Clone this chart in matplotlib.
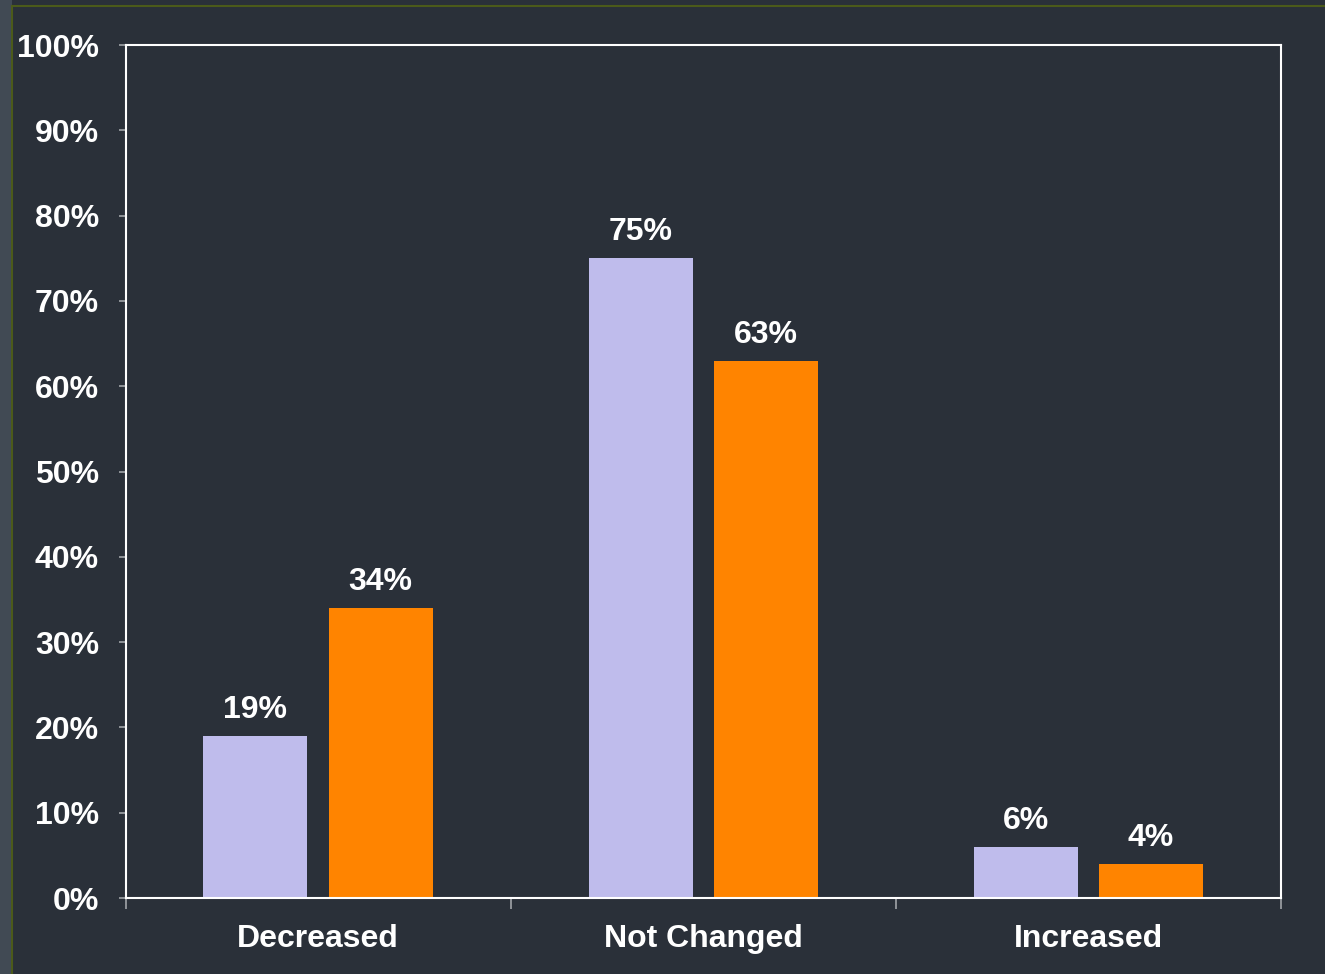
import numpy as np
import matplotlib
matplotlib.use("Agg")
import matplotlib.pyplot as plt
from matplotlib.lines import Line2D
from matplotlib.patches import Rectangle

categories = ["Decreased", "Not Changed", "Increased"]
series_a = [19, 75, 6]    # lavender
series_b = [34, 63, 4]    # orange
yticks = [0, 10, 20, 30, 40, 50, 60, 70, 80, 90, 100]
ytick_labels = [f"{v}%" for v in yticks]

bg = "#2a3039"
col_a = "#bfbcec"
col_b = "#ff8400"

plt.rcParams["font.family"] = ["Liberation Sans", "DejaVu Sans"]
plt.rcParams["font.weight"] = "bold"
fs = 23

fig = plt.figure(figsize=(13.25, 9.74), dpi=100, facecolor=bg)

# left strip and olive frame lines of the slide
fig.add_artist(Rectangle((0, 0), 12 / 1325, 1, transform=fig.transFigure,
                         facecolor="#414a54", edgecolor="none"))
fig.add_artist(Line2D([12 / 1325, 1], [1 - 6 / 974, 1 - 6 / 974],
                      transform=fig.transFigure, color="#4b5a1a", lw=1.5))
fig.add_artist(Line2D([12 / 1325, 12 / 1325], [0, 1 - 6 / 974],
                      transform=fig.transFigure, color="#4b5a1a", lw=1.5))

ax = fig.add_axes([125.5 / 1325, 1 - 898 / 974, (1281 - 125.5) / 1325, (898 - 45) / 974])
ax.set_facecolor(bg)

x = np.arange(len(categories))
w = 0.27
off = 0.1625
bars_a = ax.bar(x - off, series_a, width=w, color=col_a, zorder=2)
bars_b = ax.bar(x + off, series_b, width=w, color=col_b, zorder=2)

for bars, vals in ((bars_a, series_a), (bars_b, series_b)):
    for b, v in zip(bars, vals):
        ax.annotate(f"{v}%", (b.get_x() + b.get_width() / 2, v),
                    xytext=(0, 13), textcoords="offset points",
                    ha="center", va="baseline", color="white",
                    fontsize=fs, fontweight="bold")

ax.set_xlim(-0.5, 2.5)
ax.set_ylim(0, 100)
ax.set_yticks(yticks)
ax.set_yticklabels(ytick_labels)
ax.set_xticks(x)
ax.set_xticklabels(categories)
ax.set_xticks([-0.5, 0.5, 1.5, 2.5], minor=True)

ax.tick_params(axis="x", which="major", length=0, pad=19, labelsize=fs,
               labelcolor="white")
ax.tick_params(axis="x", which="minor", length=8, width=1.2, color="#a0a4a8",
               direction="out")
ax.tick_params(axis="y", length=5, width=1.2, color="#a0a4a8", pad=14,
               labelsize=fs, labelcolor="white")
for lab in ax.get_xticklabels() + ax.get_yticklabels():
    lab.set_fontweight("bold")

for s in ax.spines.values():
    s.set_color("white")
    s.set_linewidth(1.5)

fig.savefig("out.png", dpi=100, facecolor=bg)
